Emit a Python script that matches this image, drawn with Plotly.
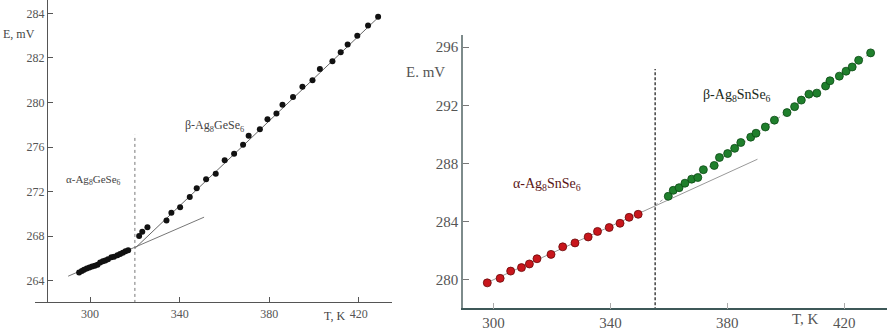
import plotly.graph_objects as go

# ---------------- Left panel: Ag8GeSe6 ----------------
ge_alpha_T = [295.1, 296.3, 297.3, 298.5, 299.7, 300.9, 302.1, 303.3, 304.5, 305.7,
              306.8, 308.0, 309.5, 310.7, 312.2, 313.4, 314.6, 315.8, 317.0]
ge_alpha_E = [264.73, 264.86, 264.97, 265.09, 265.18, 265.27, 265.33, 265.42, 265.62, 265.74,
              265.80, 265.92, 266.10, 266.15, 266.27, 266.39, 266.50, 266.63, 266.74]
ge_beta_T = [321.9, 323.3, 325.6, 334.1, 336.3, 340.2, 344.5, 347.6, 351.8, 356.1,
             360.1, 364.3, 368.3, 370.8, 375.8, 379.2, 383.2, 385.9, 390.6, 394.8,
             399.3, 402.6, 408.2, 411.9, 415.0, 419.3, 424.1, 428.6]
ge_beta_E = [268.0, 268.4, 268.8, 269.4, 270.1, 270.6, 271.5, 272.3, 273.1, 273.6,
             274.8, 275.4, 276.2, 277.0, 277.6, 278.5, 279.0, 279.8, 280.5, 281.4,
             282.0, 283.0, 283.7, 284.5, 285.2, 286.0, 286.9, 287.7]
ge_alpha_fit_T = [290.2, 350.9]
ge_alpha_fit_E = [264.4, 269.7]
ge_beta_fit_T = [320.0, 429.0]
ge_beta_fit_E = [266.9, 287.7]
ge_transition_T = [320.0, 320.0]
ge_transition_E = [262.0, 277.1]
ge_ytick_vals = [264, 268, 272, 276, 280, 284, 288]
ge_ytick_text = ["264", "268", "272", "276", "280", "282", "284"]
ge_xtick_vals = [300, 340, 380, 420]

# ---------------- Right panel: Ag8SnSe6 ----------------
sn_alpha_T = [297.9, 302.3, 305.9, 309.6, 312.3, 314.9, 319.7, 323.7, 327.9, 332.4,
              335.6, 339.6, 343.3, 346.4, 349.5]
sn_alpha_E = [279.78, 280.09, 280.59, 280.83, 281.08, 281.44, 281.74, 282.26, 282.53, 282.94,
              283.32, 283.59, 283.88, 284.29, 284.50]
sn_beta_T = [359.8, 361.5, 363.5, 365.5, 367.8, 369.9, 371.8, 375.5, 377.3, 380.1,
             382.5, 384.6, 388.0, 389.8, 393.0, 396.1, 400.4, 403.0, 405.3, 407.9,
             410.6, 413.6, 415.1, 418.3, 420.6, 422.7, 424.9, 429.0]
sn_beta_E = [285.74, 286.15, 286.33, 286.64, 286.92, 287.03, 287.57, 287.86, 288.41, 288.68,
             289.04, 289.44, 289.81, 290.08, 290.51, 290.98, 291.50, 291.91, 292.36, 292.77,
             292.84, 293.33, 293.69, 294.01, 294.35, 294.64, 295.10, 295.61]
sn_alpha_fit_T = [297.7, 390.3]
sn_alpha_fit_E = [279.78, 288.29]
sn_beta_fit_T = [355.3, 429.0]
sn_beta_fit_E = [285.13, 295.61]
sn_transition_T = [355.3, 355.3]
sn_transition_E = [277.9, 294.5]
sn_ytick_vals = [280, 284, 288, 292, 296]
sn_xtick_vals = [300, 340, 380, 420]

W, H = 887, 331
SERIF = "Liberation Serif"

fig = go.Figure()

# Left panel traces
fig.add_trace(go.Scatter(x=ge_alpha_fit_T, y=ge_alpha_fit_E, mode="lines",
                         line=dict(color="#777777", width=1), xaxis="x", yaxis="y"))
fig.add_trace(go.Scatter(x=ge_beta_fit_T, y=ge_beta_fit_E, mode="lines",
                         line=dict(color="#666666", width=1), xaxis="x", yaxis="y"))
fig.add_trace(go.Scatter(x=ge_transition_T, y=ge_transition_E, mode="lines",
                         line=dict(color="#777777", width=1, dash="dot"), xaxis="x", yaxis="y"))
fig.add_trace(go.Scatter(x=ge_alpha_T, y=ge_alpha_E, mode="markers",
                         marker=dict(color="#111111", size=6), xaxis="x", yaxis="y"))
fig.add_trace(go.Scatter(x=ge_beta_T, y=ge_beta_E, mode="markers",
                         marker=dict(color="#111111", size=6), xaxis="x", yaxis="y"))

# Right panel traces
fig.add_trace(go.Scatter(x=sn_alpha_fit_T, y=sn_alpha_fit_E, mode="lines",
                         line=dict(color="#999999", width=1), xaxis="x2", yaxis="y2"))
fig.add_trace(go.Scatter(x=sn_beta_fit_T, y=sn_beta_fit_E, mode="lines",
                         line=dict(color="#999999", width=1, dash="dot"), xaxis="x2", yaxis="y2"))
fig.add_trace(go.Scatter(x=sn_transition_T, y=sn_transition_E, mode="lines",
                         line=dict(color="#111111", width=1.2, dash="3px,2px"), xaxis="x2", yaxis="y2"))
fig.add_trace(go.Scatter(x=sn_alpha_T, y=sn_alpha_E, mode="markers",
                         marker=dict(color="#c8161c", size=8, line=dict(color="#6a0a0a", width=0.8)),
                         xaxis="x2", yaxis="y2"))
fig.add_trace(go.Scatter(x=sn_beta_T, y=sn_beta_E, mode="markers",
                         marker=dict(color="#1f7f2c", size=8, line=dict(color="#0d4a15", width=0.8)),
                         xaxis="x2", yaxis="y2"))

def px_x(p):
    return p / W

def px_y(p):
    return 1 - p / H

left_tick_font = dict(family=SERIF, size=12, color="#555555")
right_tick_font = dict(family=SERIF, size=15, color="#555555")

fig.update_layout(
    width=W, height=H,
    margin=dict(l=0, r=0, t=0, b=0),
    paper_bgcolor="white", plot_bgcolor="white",
    showlegend=False,
    font=dict(family=SERIF),
    xaxis=dict(domain=[px_x(35), px_x(392)], range=[275.4, 434.8], anchor="y",
               showgrid=False, zeroline=False, showline=True, linecolor="#555555", linewidth=1,
               ticks="inside", ticklen=5, tickcolor="#555555",
               tickvals=ge_xtick_vals, tickfont=left_tick_font),
    yaxis=dict(domain=[px_y(307), 1], range=[262.05, 289.2], anchor="free",
               position=px_x(47),
               showgrid=False, zeroline=False, showline=True, linecolor="#555555", linewidth=1,
               ticks="inside", ticklen=5, tickcolor="#555555",
               tickvals=ge_ytick_vals, ticktext=ge_ytick_text, tickfont=left_tick_font),
    xaxis2=dict(domain=[px_x(463.3), 1], range=[289.7, 434.6], anchor="y2",
                showgrid=False, zeroline=False, showline=True, linecolor="#3d5858", linewidth=1.5,
                ticks="inside", ticklen=6, tickcolor="#aaaaaa",
                tickvals=sn_xtick_vals, tickfont=right_tick_font),
    yaxis2=dict(domain=[px_y(313), px_y(36)], range=[278.03, 296.81], anchor="x2",
                showgrid=False, zeroline=False, showline=True, linecolor="#7d8b8b", linewidth=2,
                ticks="inside", ticklen=6, tickcolor="#777777",
                tickvals=sn_ytick_vals, tickfont=right_tick_font),
)

annos = [
    dict(x=301.3, y=273.0, xref="x", yref="y", text="α-Ag<sub>8</sub>GeSe<sub>6</sub>",
         font=dict(family=SERIF, size=11, color="#444444")),
    dict(x=355.4, y=277.9, xref="x", yref="y", text="β-Ag<sub>8</sub>GeSe<sub>6</sub>",
         font=dict(family=SERIF, size=12, color="#444444")),
    dict(x=318.3, y=286.58, xref="x2", yref="y2", text="α-Ag<sub>8</sub>SnSe<sub>6</sub>",
         font=dict(family=SERIF, size=14, color="#5a1515")),
    dict(x=383.3, y=292.68, xref="x2", yref="y2", text="β-Ag<sub>8</sub>SnSe<sub>6</sub>",
         font=dict(family=SERIF, size=14, color="#1a2a1a")),
    dict(x=px_x(19), y=px_y(35), xref="paper", yref="paper", text="E, mV",
         font=dict(family=SERIF, size=12, color="#444444")),
    dict(x=px_x(334), y=px_y(321), xref="paper", yref="paper", text="T, K",
         font=dict(family=SERIF, size=12, color="#444444")),
    dict(x=px_x(425), y=px_y(73), xref="paper", yref="paper", text="E. mV",
         font=dict(family=SERIF, size=15, color="#555555")),
    dict(x=px_x(805), y=px_y(324), xref="paper", yref="paper", text="T, K",
         font=dict(family=SERIF, size=15, color="#555555")),
]
for a in annos:
    a.update(showarrow=False, xanchor="center", yanchor="middle")
fig.update_layout(annotations=annos)

fig.write_html("out.html")
